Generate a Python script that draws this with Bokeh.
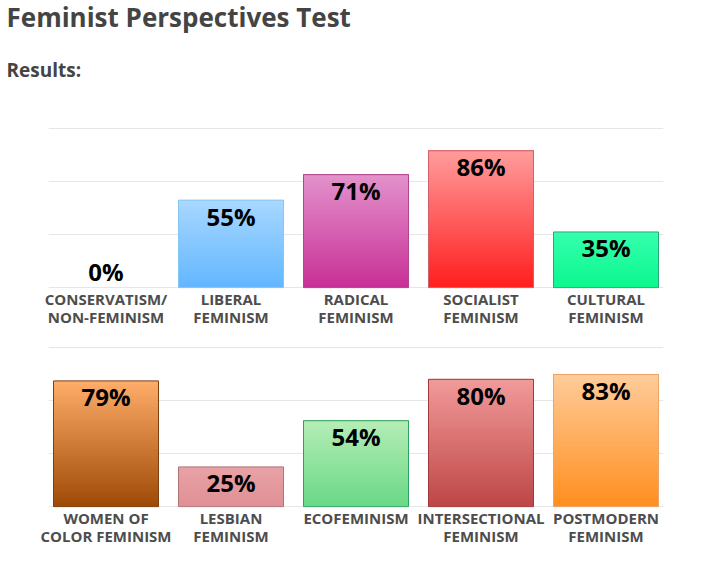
from bokeh.plotting import figure
from bokeh.layouts import column
from bokeh.models import Range1d, FixedTicker, ColumnDataSource
from bokeh.core.properties import value
from bokeh.embed import file_html
from bokeh.resources import INLINE

# ---------------- data ----------------
title_text = "Feminist Perspectives Test"
subtitle_text = "Results:"

top_categories = ["CONSERVATISM/\nNON-FEMINISM", "LIBERAL\nFEMINISM", "RADICAL\nFEMINISM",
                  "SOCIALIST\nFEMINISM", "CULTURAL\nFEMINISM"]
top_values = [0, 55, 71, 86, 35]
top_colors_top = ["#cccccc", "#a8d8ff", "#e292cc", "#ff9c9c", "#36ffae"]
top_colors_bottom = ["#999999", "#62b6ff", "#c92f96", "#ff1e1e", "#0cf78e"]
top_borders = ["#999999", "#86c6f2", "#b0458f", "#d0606c", "#28a878"]

bottom_categories = ["WOMEN OF\nCOLOR FEMINISM", "LESBIAN\nFEMINISM", "ECOFEMINISM",
                     "INTERSECTIONAL\nFEMINISM", "POSTMODERN\nFEMINISM"]
bottom_values = [79, 25, 54, 80, 83]
bottom_colors_top = ["#ffad6a", "#e8a2a6", "#b6edb6", "#f29a9a", "#ffcc9a"]
bottom_colors_bottom = ["#9e4a06", "#df9096", "#68d886", "#be4646", "#ff8e1e"]
bottom_borders = ["#7e3e10", "#b07474", "#30a060", "#a03a3a", "#eaa466"]

grid_ticks = [0, 100 / 3, 200 / 3, 100]

FONT = "Open Sans"
N_SLICES = 40


def hex2rgb(h):
    h = h.lstrip("#")
    return tuple(int(h[i:i + 2], 16) for i in (0, 2, 4))


def mix(c1, c2, t):
    a, b = hex2rgb(c1), hex2rgb(c2)
    return "#%02x%02x%02x" % tuple(int(round(a[i] + (b[i] - a[i]) * t)) for i in range(3))


def make_chart(categories, values, ctop, cbot, borders, border_top):
    n = len(categories)
    p = figure(frame_width=615, frame_height=161,
               x_range=Range1d(-0.46, n - 1 + 0.46), y_range=Range1d(-0.5, 100.6),
               output_backend="svg", toolbar_location=None,
               min_border_left=48, min_border_right=23,
               min_border_top=border_top, min_border_bottom=50)
    p.outline_line_color = None
    p.background_fill_color = "white"
    p.border_fill_color = "white"
    p.xgrid.visible = False
    p.ygrid.ticker = FixedTicker(ticks=grid_ticks)
    p.ygrid.grid_line_color = "#e6e6e6"
    p.ygrid.grid_line_width = 1
    p.yaxis.visible = False

    xs = list(range(n))
    w = 0.84
    # gradient bars: overlapping slices, each running up to the bar top
    L, R, B, T, C = [], [], [], [], []
    for i, v in enumerate(values):
        if v <= 0:
            continue
        for k in range(N_SLICES):
            L.append(xs[i] - w / 2)
            R.append(xs[i] + w / 2)
            B.append(v * k / N_SLICES)
            T.append(v)
            C.append(mix(cbot[i], ctop[i], (k + 0.5) / N_SLICES))
    p.quad(left=L, right=R, bottom=B, top=T, fill_color=C, line_color=None)
    # outlines
    bx = [x for x, v in zip(xs, values) if v > 0]
    bv = [v for v in values if v > 0]
    bb = [b for b, v in zip(borders, values) if v > 0]
    p.vbar(x=bx, top=bv, width=w, bottom=0, fill_alpha=0, line_color=bb, line_width=1)

    # value labels
    inside = ColumnDataSource(dict(x=[x for x, v in zip(xs, values) if v > 0],
                                   y=[v for v in values if v > 0],
                                   t=["%d%%" % v for v in values if v > 0]))
    outside = ColumnDataSource(dict(x=[x for x, v in zip(xs, values) if v <= 0],
                                    y=[v for v in values if v <= 0],
                                    t=["%d%%" % v for v in values if v <= 0]))
    common = dict(text_font=value(FONT), text_font_style="bold", text_font_size="24px",
                  text_color="#000000", text_align="center", text_baseline="alphabetic")
    p.text(x="x", y="y", text="t", source=inside, y_offset=16, **common)
    p.text(x="x", y="y", text="t", source=outside, y_offset=-16, **common)

    ax = p.xaxis[0]
    ax.ticker = FixedTicker(ticks=xs)
    ax.major_label_overrides = {i: c for i, c in enumerate(categories)}
    ax.axis_line_color = None
    ax.major_tick_line_color = None
    ax.minor_tick_line_color = None
    ax.major_tick_out = 0
    ax.major_tick_in = 0
    ax.major_label_standoff = 0
    ax.major_label_text_font = FONT
    ax.major_label_text_font_style = "bold"
    ax.major_label_text_font_size = "15px"
    ax.major_label_text_line_height = 0.9
    ax.major_label_text_color = "#4d4d4d"
    return p


# heading (its own root so its frame is not aligned with the charts)
head = figure(width=686, height=118, x_range=Range1d(0, 686), y_range=Range1d(118, 0),
              output_backend="svg", toolbar_location=None, min_border=0)
head.axis.visible = False
head.grid.visible = False
head.outline_line_color = None
head.text(x=[6], y=[16], text=[title_text], text_font=value(FONT), text_font_style="bold",
          text_font_size="26px", text_color="#444444", text_baseline="alphabetic")
head.text(x=[6], y=[69], text=[subtitle_text], text_font=value(FONT), text_font_style="bold",
          text_font_size="19px", text_color="#444444", text_baseline="alphabetic")

p1 = make_chart(top_categories, top_values, top_colors_top, top_colors_bottom, top_borders, 9)
p2 = make_chart(bottom_categories, bottom_values, bottom_colors_top, bottom_colors_bottom,
                bottom_borders, 8)

charts = column(p1, p2, spacing=0)
open("out.html", "w").write(file_html([head, charts], INLINE))
